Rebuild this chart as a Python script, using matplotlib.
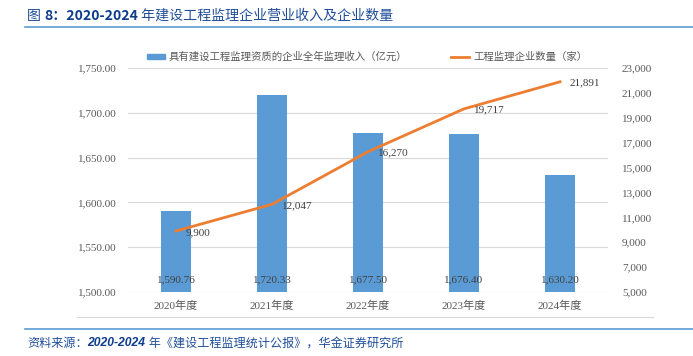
import matplotlib
matplotlib.use("Agg")
import matplotlib.pyplot as plt
from matplotlib.lines import Line2D
from matplotlib.patches import Patch

categories = ["2020年度", "2021年度", "2022年度", "2023年度", "2024年度"]
revenue = [1590.76, 1720.33, 1677.50, 1676.40, 1630.20]
companies = [9900, 12047, 16270, 19717, 21891]
left_ticks = [1500, 1550, 1600, 1650, 1700, 1750]
right_ticks = [5000, 7000, 9000, 11000, 13000, 15000, 17000, 19000, 21000, 23000]

SERIF = ["Liberation Serif", "Noto Sans CJK SC"]
CJK = ["Noto Sans CJK SC", "DejaVu Sans"]
BLUE = "#5b9bd5"
ORANGE = "#ed7d31"
GRAY = "#595959"
TITLE_BLUE = "#1f4e99"

fig = plt.figure(figsize=(6.93, 3.56), dpi=100)
ax = fig.add_axes([128/693, 1-292/356, 480/693, 224/356])
ax2 = ax.twinx()

x = list(range(len(categories)))
ax.bar(x, revenue, width=0.31, color=BLUE, zorder=2)
ax.set_ylim(1500, 1750)
ax.set_xlim(-0.5, len(categories)-0.5)
ax.set_yticks(left_ticks)
ax.set_yticklabels([f"{v:,.2f}" for v in left_ticks], family=SERIF, fontsize=8, color=GRAY)
ax.set_xticks(x)
ax.set_xticklabels(categories, family=SERIF, fontsize=8, color=GRAY)
ax.grid(axis="y", color="#d9d9d9", linewidth=0.8, zorder=0)
ax.tick_params(length=0, pad=8)
ax.tick_params(axis="x", pad=6)
for s in ax.spines.values():
    s.set_visible(False)
for xi, v in zip(x, revenue):
    ax.annotate(f"{v:,.2f}", (xi, 1500), xytext=(0, 9), textcoords="offset points",
                ha="center", va="center", family=SERIF, fontsize=8, color="#404040", zorder=4)

ax2.plot(x, companies, color=ORANGE, linewidth=2, zorder=3)
ax2.set_ylim(5000, 23000)
ax2.set_yticks(right_ticks)
ax2.set_yticklabels([f"{v:,}" for v in right_ticks], family=SERIF, fontsize=8, color=GRAY)
ax2.tick_params(length=0, pad=10)
for s in ax2.spines.values():
    s.set_visible(False)
for xi, v in zip(x, companies):
    ax2.annotate(f"{v:,}", (xi, v), xytext=(7, -1), textcoords="offset points",
                 ha="left", va="center", family=SERIF, fontsize=8, color="#404040")

handles = [Patch(color=BLUE), Line2D([0], [0], color=ORANGE, linewidth=2)]
labels = ["具有建设工程监理资质的企业全年监理收入（亿元）", "工程监理企业数量（家）"]
leg = fig.legend(handles, labels, loc="center", bbox_to_anchor=(367/693, 1-57/356), ncol=2,
                 frameon=False, prop={"family": CJK, "size": 7.5}, labelcolor=GRAY,
                 columnspacing=4.2, handlelength=1.7, handleheight=0.5, handletextpad=0.4)

# title with mixed weights
t1 = fig.text(27/693, 1-16/356, "图 ", family=CJK, fontsize=10.1, color=TITLE_BLUE,
              ha="left", va="center")
a2 = fig.add_artist(plt.Annotation("8：2020-2024", xy=(1, 0.5), xycoords=t1,
                                   ha="left", va="center", family=CJK, fontsize=10.1,
                                   color="#0d3d8c", fontweight="semibold"))
a3 = fig.add_artist(plt.Annotation(" 年建设工程监理企业营业收入及企业数量", xy=(1, 0.5), xycoords=a2,
                                   ha="left", va="center", family=CJK, fontsize=10.1,
                                   color=TITLE_BLUE))

fig.add_artist(Line2D([25/693, 1], [1-27/356]*2, color="#5b9bd5", linewidth=1.2))
fig.add_artist(Line2D([77/693, 653/693], [1-317/356]*2, color="#d9d9d9", linewidth=0.8))
fig.add_artist(Line2D([25/693, 1], [1-329/356]*2, color="#5b9bd5", linewidth=1.2))

s1 = fig.text(27/693, 1-343/356, "资料来源：", family=CJK, fontsize=8.7, color=TITLE_BLUE,
              style="italic", ha="left", va="center")
s2 = fig.add_artist(plt.Annotation("2020-2024", xy=(1, 0.5), xycoords=s1, ha="left", va="center",
                                   family=["Liberation Sans", "DejaVu Sans"], fontsize=8.7,
                                   color="#0d3d8c", style="italic", fontweight="bold"))
s3 = fig.add_artist(plt.Annotation(" 年《建设工程监理统计公报》，华金证券研究所", xy=(1, 0.5), xycoords=s2,
                                   ha="left", va="center", family=CJK, fontsize=8.7,
                                   color=TITLE_BLUE, style="italic"))

fig.savefig("out.png", dpi=100)
